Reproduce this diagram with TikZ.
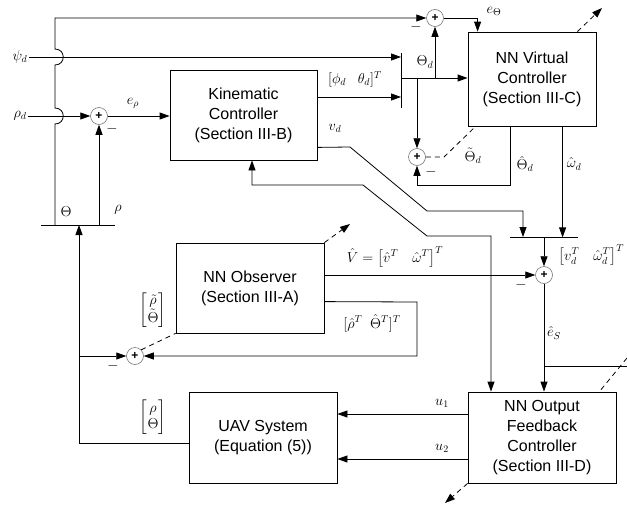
\documentclass[tikz,border=0pt]{standalone}
\usepackage{amsmath}
\usepackage{fontspec}
\setmainfont{Liberation Sans}
\usetikzlibrary{arrows.meta,calc}
\begin{document}
\begin{tikzpicture}[x=1pt,y=-1pt,
  blk/.style={draw, line width=0.8pt, fill=white, align=center, inner sep=0pt,
    font=\fontsize{16}{20}\selectfont},
  sumn/.style={circle, draw=black!60, line width=0.5pt, minimum size=17pt, inner sep=0pt,
    fill=white, font=\fontsize{12}{12}\selectfont\bfseries},
  lab/.style={font=\fontsize{14}{16}\selectfont, inner sep=1pt},
  minus/.style={font=\fontsize{15}{16}\selectfont\bfseries, inner sep=0pt},
  conn/.style={line width=0.8pt},
  arr/.style={conn, -{Triangle[length=10pt,width=7pt]}},
  arrboth/.style={conn, {Triangle[length=10pt,width=7pt]}-{Triangle[length=10pt,width=7pt]}},
  dsh/.style={line width=0.8pt, dash pattern=on 5pt off 4pt},
  dsharr/.style={dsh, -{Triangle[length=10pt,width=7pt]}}]
\useasboundingbox (0,0) rectangle (627,506);

% blocks
\node[blk, minimum width=147pt, minimum height=90pt] (kin) at (243.5,115) {Kinematic\\Controller\\(Section III-B)};
\node[blk, minimum width=128pt, minimum height=94pt] (nnv) at (532,79) {NN Virtual\\Controller\\(Section III-C)};
\node[blk, minimum width=148pt, minimum height=90pt] (obs) at (250,288) {NN Observer\\(Section III-A)};
\node[blk, minimum width=148pt, minimum height=91pt] (uav) at (263,437.5) {UAV System\\(Equation (5))};
\node[blk, minimum width=148pt, minimum height=91pt] (nno) at (542,437.5) {NN Output\\Feedback\\Controller\\(Section III-D)};

% summing junctions
\node[sumn] (sr) at (99,116) {+};
\node[sumn] (s1) at (435,18) {+};
\node[sumn] (s2) at (417,157) {+};
\node[sumn] (s3) at (135,356) {+};
\node[sumn] (s4) at (544,275) {+};

% bars
\coordinate (b1t) at (401,53);
\coordinate (b1b) at (401,108);
\coordinate (b2l) at (41,225);
\coordinate (b2r) at (115,225);
\coordinate (b3l) at (510,237);
\coordinate (b3r) at (578,237);
\draw[conn] (b1t) -- (b1b);
\draw[conn] (b2l) -- (b2r);
\draw[conn] (b3l) -- (b3r);

% input labels
\node[lab] (psi) at (20,57) {$\psi_d$};
\node[lab] (rhod) at (20,116) {$\rho_d$};

% Theta feedback to top summing junction (with jumps)
\coordinate (thb) at (55,225);
\draw[arr] (thb) -- (55,124) .. controls (66,124) and (66,108) .. (55,108)
  -- (55,65) .. controls (66,65) and (66,49) .. (55,49) -- (55,18) -- (s1);

% psi_d and rho_d lines
\coordinate (b1psi) at (401,57);
\draw[arr] (psi.east) -- (b1psi);
\draw[arr] (rhod.east) -- (sr);
\draw[arr] (sr) -- (sr -| kin.west);
\coordinate (rhob) at (99,225);
\draw[arr] (rhob) -- (sr);

% kinematic to bar 1
\coordinate (b1phi) at (401,97);
\draw[arr] (kin.east |- b1phi) -- (b1phi);
\coordinate (b1o) at (401,78);
\draw[arr] (b1o) -- (b1o -| nnv.west);
\coordinate (j1) at (435,78);
\coordinate (j2) at (417,78);
\draw[arr] (j1) -- (s1);
\draw[arr] (j2) -- (s2);
\draw[arr] (s1) -| ($(nnv.north west)+(10,0)$);

% NN virtual outputs
\draw[arr] ($(nnv.south west)+(43,0)$) -- ++(0,59) -| (s2.south);
\draw[arr] ($(nnv.south west)+(95,0)$) -- ++(0,111);

% v_d line
\draw[arr] ($(kin.south east)+(0,-13)$) -- (350,147) -- (427,211) -| (523,237);

% feedback to kinematic / output feedback controller
\draw[arrboth] ($(kin.south)+(8.5,0)$) -- (252,185) -- (363,185) -- (427,236) -| ($(nno.north)+(-51,0)$);

% bar3 to s4, observer to s4
\coordinate (b3o) at (544,237);
\draw[arr] (b3o) -- (s4);
\draw[arr] (obs.east |- s4) -- (s4);
\draw[arr] (s4) -- (s4 |- nno.north);
\coordinate (jes) at (544,366);
\coordinate (redge) at (627,366);
\draw[conn] (jes) -- (redge);

% observer state estimate to s3
\draw[arr] ($(obs.north east)+(0,59)$) -- (417,302) |- (s3);

% control inputs
\draw[arr] ($(nno.west)+(0,-23.5)$) -- ($(uav.east)+(0,-23.5)$);
\draw[arr] ($(nno.west)+(0,21.5)$) -- ($(uav.east)+(0,21.5)$);

% UAV output feedback
\draw[arr] ($(uav.west)+(0,5.5)$) -| (79,225);
\coordinate (j3) at (79,356);
\draw[arr] (j3) -- (s3);

% dashed tuning lines
\draw[dsh] (s2.east) -- (444,157) -- ($(nnv.south west)+(8,0)$);
\draw[dsharr] ($(nnv.north east)+(-19,0)$) -- (602,8);
\draw[dsh] (s3.north east) -- (obs.south west);
\draw[dsharr] (obs.north east) -- (350,224);
\draw[dsh] (627,358) -- ($(nno.north east)+(-17,0)$);
\draw[dsharr] (nno.south west) -- (445,503);

% labels
\node[lab] at (133,103) {$e_\rho$};
\node[lab] at (66,212) {$\Theta$};
\node[lab] at (118,210) {$\rho$};
\node[lab] at (355,79) {$[\phi_d\ \ \ \theta_d]^T$};
\node[lab] at (425,62) {$\Theta_d$};
\node[lab] at (494,11) {$e_\Theta$};
\node[lab] at (335,128) {$v_d$};
\node[lab] at (473,156) {$\tilde\Theta_d$};
\node[lab] at (525,164) {$\hat\Theta_d$};
\node[lab] at (574,164) {$\hat\omega_d$};
\node[lab] at (395,257) {$\hat V=\big[\hat v^T\quad \hat\omega^T\big]^T$};
\node[lab, anchor=west] at (557,255) {$\big[v_d^T\quad \hat\omega_d^T\big]^T$};
\node[lab] at (372,323) {$[\hat\rho^T\ \ \hat\Theta^T]^T$};
\node[lab] at (153,310) {$\left[\begin{matrix}\tilde\rho\\ \tilde\Theta\end{matrix}\right]$};
\node[lab] at (153,417) {$\left[\begin{matrix}\rho\\ \Theta\end{matrix}\right]$};
\node[lab] at (554,333) {$\hat e_S$};
\node[lab] at (442,403) {$u_1$};
\node[lab] at (442,448) {$u_2$};

% minus signs
\node[minus] at (112,129) {$-$};
\node[minus] at (416,27) {$-$};
\node[minus] at (431,172) {$-$};
\node[minus] at (113,366) {$-$};
\node[minus] at (521,285) {$-$};
\end{tikzpicture}
\end{document}
